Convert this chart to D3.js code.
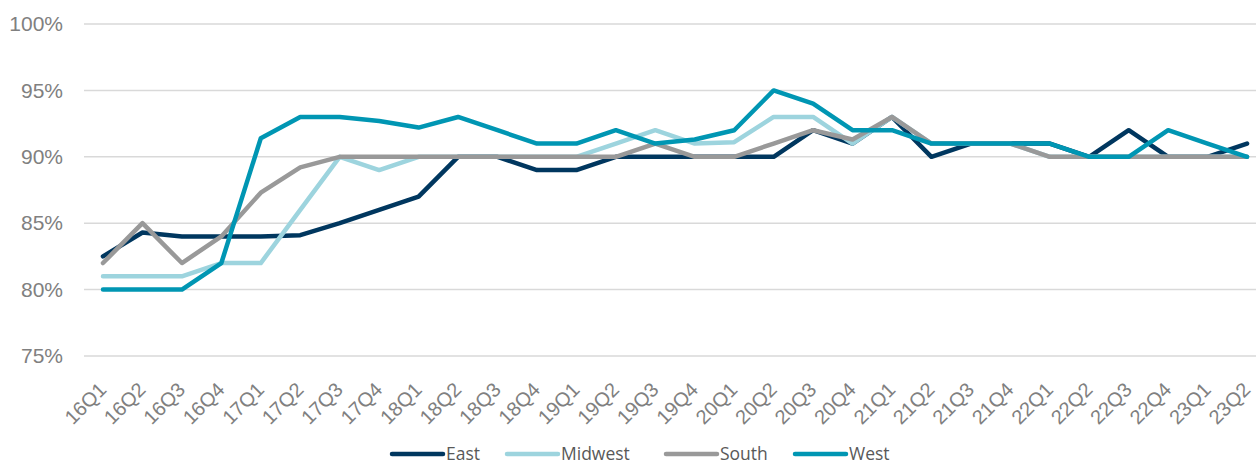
<!DOCTYPE html>
<html>
<head>
<meta charset="utf-8">
<script src="https://cdn.jsdelivr.net/npm/d3@7"></script>
<style>
    body { margin: 0; background: #fff; }
    #chart { width: 1256px; height: 464px; }
</style>
</head>
<body>
<div id="chart"></div>
<script>
// quarters
const quarters = ["16Q1", "16Q2", "16Q3", "16Q4", "17Q1", "17Q2", "17Q3", "17Q4",
    "18Q1", "18Q2", "18Q3", "18Q4", "19Q1", "19Q2", "19Q3", "19Q4",
    "20Q1", "20Q2", "20Q3", "20Q4", "21Q1", "21Q2", "21Q3", "21Q4",
    "22Q1", "22Q2", "22Q3", "22Q4", "23Q1", "23Q2"];

const east = [82.5, 84.3, 84, 84, 84, 84.1, 85, 86, 87, 90, 90, 89, 89, 90, 90, 90,
    90, 90, 92, 91, 93, 90, 91, 91, 91, 90, 92, 90, 90, 91];
const midwest = [81, 81, 81, 82, 82, 86, 90, 89, 90, 90, 90, 90, 90, 91, 92, 91,
    91.1, 93, 93, 91, 93, 91, 91, 91, 90, 90, 90, 90, 90, 90];
const south = [82, 85, 82, 84, 87.3, 89.2, 90, 90, 90, 90, 90, 90, 90, 90, 91, 90,
    90, 91, 92, 91.3, 93, 91, 91, 91, 90, 90, 90, 90, 90, 90];
const west = [80, 80, 80, 82, 91.4, 93, 93, 92.7, 92.2, 93, 92, 91, 91, 92, 91, 91.3,
    92, 95, 94, 92, 92, 91, 91, 91, 91, 90, 90, 92, 91, 90];

const seriesNames = ["East", "Midwest", "South", "West"];
const seriesColors = ["#00375f", "#9dd4de", "#999999", "#0096b3"];
const yTicks = [75, 80, 85, 90, 95, 100];

class QuarterLineChart {
    constructor(parentElement) {
        this.parentElement = parentElement
        this.data = [east, midwest, south, west].map((vals, i) => ({
            name: seriesNames[i],
            color: seriesColors[i],
            values: vals.map((v, j) => ({q: quarters[j], v: v}))
        }))
        this.initVis()
    }

    initVis() {
        let vis = this

        vis.margin = {top: 24, right: 0, bottom: 108, left: 84};
        vis.width = 1256 - vis.margin.left - vis.margin.right;
        vis.height = 464 - vis.margin.top - vis.margin.bottom;

        vis.svg = d3.select("#" + vis.parentElement).append("svg")
            .attr("width", 1256)
            .attr("height", 464)
            .append("g")
            .attr("transform", `translate(${vis.margin.left}, ${vis.margin.top})`);

        // points sit in the middle of each category band
        vis.x = d3.scalePoint()
            .domain(quarters)
            .range([19, 19 + 29 * 39.45]);

        vis.y = d3.scaleLinear()
            .domain([75, 100])
            .range([vis.height, 0]);

        // gridlines
        vis.svg.append("g")
            .attr("class", "grid")
            .selectAll("line")
            .data(yTicks)
            .enter().append("line")
            .attr("x1", 0)
            .attr("x2", vis.width)
            .attr("y1", d => vis.y(d))
            .attr("y2", d => vis.y(d))
            .attr("stroke", "#d9d9d9")
            .attr("stroke-width", 1.5);

        // y axis
        let yAxis = d3.axisLeft(vis.y)
            .tickValues(yTicks)
            .tickSize(0)
            .tickPadding(21)
            .tickFormat(d => d + "%");
        vis.svg.append("g")
            .attr("class", "y-axis")
            .call(yAxis)
            .call(g => g.select(".domain").remove())
            .selectAll("text")
            .attr("font-family", "Liberation Sans, Arial, sans-serif")
            .attr("font-size", "21px")
            .attr("fill", "#808080");

        // x axis
        let xAxis = d3.axisBottom(vis.x).tickSize(0);
        vis.svg.append("g")
            .attr("class", "x-axis")
            .attr("transform", `translate(0, ${vis.height})`)
            .call(xAxis)
            .call(g => g.select(".domain").remove())
            .selectAll("text")
            .attr("font-family", "Liberation Sans, Arial, sans-serif")
            .attr("font-size", "20px")
            .attr("fill", "#808080")
            .attr("text-anchor", "end")
            .attr("dy", null)
            .attr("y", 0)
            .attr("transform", "translate(4, 35) rotate(-45)");

        // lines
        let line = d3.line()
            .x(d => vis.x(d.q))
            .y(d => vis.y(d.v));

        vis.svg.append("g")
            .selectAll("path")
            .data(vis.data)
            .enter().append("path")
            .attr("d", d => line(d.values))
            .attr("fill", "none")
            .attr("stroke", d => d.color)
            .attr("stroke-width", 4.5)
            .attr("stroke-linejoin", "round")
            .attr("stroke-linecap", "round");

        // legend
        let legendX = [392, 507, 666, 795];
        let legend = d3.select("#" + vis.parentElement).select("svg")
            .append("g")
            .attr("class", "legend")
            .selectAll("g")
            .data(vis.data)
            .enter().append("g")
            .attr("transform", (d, i) => `translate(${legendX[i]}, 454)`);

        legend.append("line")
            .attr("x1", 0)
            .attr("x2", 51)
            .attr("stroke", d => d.color)
            .attr("stroke-width", 4.5)
            .attr("stroke-linecap", "round");

        legend.append("text")
            .attr("x", 54)
            .attr("y", 6)
            .attr("font-family", "Open Sans, sans-serif")
            .attr("font-size", "17.5px")
            .attr("fill", "#595959")
            .text(d => d.name);
    }
}

new QuarterLineChart("chart");
</script>
</body>
</html>
